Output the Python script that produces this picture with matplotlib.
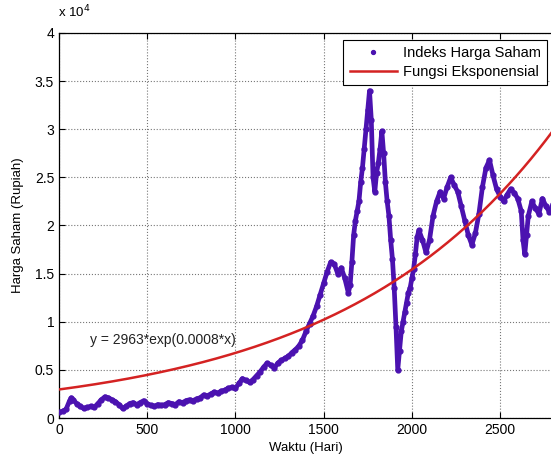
import matplotlib
matplotlib.use("Agg")
import matplotlib.pyplot as plt
import numpy as np

plt.rcParams['font.family'] = ['Liberation Sans', 'DejaVu Sans']

# Day index (Waktu, Hari)
days = [0, 20, 40, 60, 70, 80, 100, 120, 140, 160, 180, 200, 220, 240, 260, 280, 300, 320, 340, 360,
        380, 400, 420, 440, 460, 480, 500, 520, 540, 560, 580, 600, 620, 640, 660, 680, 700, 720, 740, 760,
        780, 800, 820, 840, 860, 880, 900, 920, 940, 960, 980, 1000, 1020, 1040, 1060, 1080, 1100, 1120,
        1140, 1160, 1180, 1200, 1220, 1240, 1260, 1280, 1300, 1320, 1340, 1360, 1380, 1400, 1420, 1440,
        1460, 1480, 1500, 1520, 1540, 1560, 1580, 1600, 1620, 1640, 1650, 1660, 1670, 1680, 1690, 1700,
        1710, 1720, 1730, 1740, 1750, 1760, 1770, 1780, 1790, 1800, 1810, 1820, 1830, 1840, 1850, 1860,
        1870, 1880, 1890, 1900, 1910, 1920, 1930, 1940, 1950, 1960, 1970, 1980, 1990, 2000, 2010, 2020,
        2030, 2040, 2060, 2080, 2100, 2120, 2140, 2160, 2180, 2200, 2220, 2240, 2260, 2280, 2300, 2320,
        2340, 2360, 2380, 2400, 2420, 2440, 2460, 2480, 2500, 2520, 2540, 2560, 2580, 2600, 2620, 2630,
        2640, 2650, 2660, 2680, 2700, 2720, 2740, 2760, 2780, 2800]

# Indeks Harga Saham (Rupiah)
harga = [600, 700, 900, 1800, 2100, 1900, 1500, 1200, 1000, 1100, 1200, 1100, 1500, 1900, 2200, 2100,
         1900, 1700, 1400, 1000, 1200, 1500, 1600, 1400, 1600, 1800, 1500, 1300, 1200, 1400, 1300, 1400,
         1600, 1500, 1400, 1700, 1600, 1800, 1900, 1800, 2000, 2100, 2400, 2300, 2500, 2700, 2600, 2800,
         2900, 3100, 3200, 3100, 3600, 4100, 3900, 3700, 4000, 4400, 4800, 5300, 5700, 5500, 5200, 5700,
         6000, 6200, 6400, 6800, 7100, 7500, 8100, 9000, 9800, 10600, 11600, 12800, 14000, 15200, 16200,
         16000, 15000, 15600, 14500, 13000, 13800, 16200, 19000, 20500, 21500, 22500, 24500, 26000, 28000,
         30000, 32000, 34000, 31000, 25000, 23500, 25500, 26500, 28000, 29800, 27500, 24500, 22500, 21000,
         18500, 16500, 13500, 9500, 5000, 7000, 9000, 10000, 11000, 12000, 13000, 13500, 14500, 15500,
         17000, 18800, 19500, 18500, 17200, 18500, 21000, 22500, 23500, 22800, 24000, 25000, 24200, 23500,
         22000, 20500, 19000, 18000, 19200, 21200, 24000, 26000, 26800, 25200, 23800, 23000, 22500, 23200,
         23800, 23400, 22800, 21500, 18500, 17000, 19000, 21000, 22500, 21800, 21200, 22800, 22000, 21400,
         22200]

# Fitted exponential model parameters
fit_a = 2963.0
fit_b = 0.000825
fit_label = "y = 2963*exp(0.0008*x)"

xticks = [0, 500, 1000, 1500, 2000, 2500]
yticks = [0, 0.5, 1, 1.5, 2, 2.5, 3, 3.5, 4]
scale = 1e4

W, H = 551, 461
fig = plt.figure(figsize=(W / 100, H / 100), dpi=100)
ax = fig.add_axes([59 / W, 1 - 418 / H, (553 - 59) / W, (418 - 33) / H])

purple = '#4B12B0'
red = '#D42222'

x = np.array(days, dtype=float)
y = np.array(harga, dtype=float) / scale
ax.plot(x, y, '-', color=purple, lw=3.4, zorder=2, solid_joinstyle='round')
ax.plot(x, y, '.', color=purple, ms=7, label='Indeks Harga Saham', zorder=3)

xf = np.linspace(0, 2800, 400)
ax.plot(xf, fit_a * np.exp(fit_b * xf) / scale, '-', color=red, lw=1.8,
        label='Fungsi Eksponensial', zorder=4)

ax.text(176, 0.81, fit_label, fontsize=10, va='center', ha='left', color='#222222')

ax.set_xlim(0, 2800)
ax.set_ylim(0, 4)
ax.set_xticks(xticks)
ax.set_yticks(yticks)
ax.set_yticklabels(['0', '0.5', '1', '1.5', '2', '2.5', '3', '3.5', '4'])
ax.tick_params(direction='in', top=True, right=False, length=4, labelsize=10, width=0.8)
ax.grid(True, linestyle=':', color='#777777', lw=0.8)
ax.spines['right'].set_visible(False)
for s in ['left', 'top', 'bottom']:
    ax.spines[s].set_linewidth(0.9)

ax.set_xlabel('Waktu (Hari)', fontsize=9.5, labelpad=4)
ax.set_ylabel('Harga Saham (Rupiah)', fontsize=9.5, labelpad=8)

fig.text(58 / W, 1 - 20 / H, r'x 10$^4$', fontsize=9.5, ha='left', va='bottom')

leg = ax.legend(loc='upper right', bbox_to_anchor=(0.988, 0.982), borderaxespad=0,
                fontsize=10.5, fancybox=False, framealpha=1, edgecolor='black',
                handlelength=3.2, borderpad=0.45, labelspacing=0.3, handletextpad=0.4,
                markerscale=0.8)
leg.get_frame().set_linewidth(0.8)

fig.savefig('out.png', dpi=100)
